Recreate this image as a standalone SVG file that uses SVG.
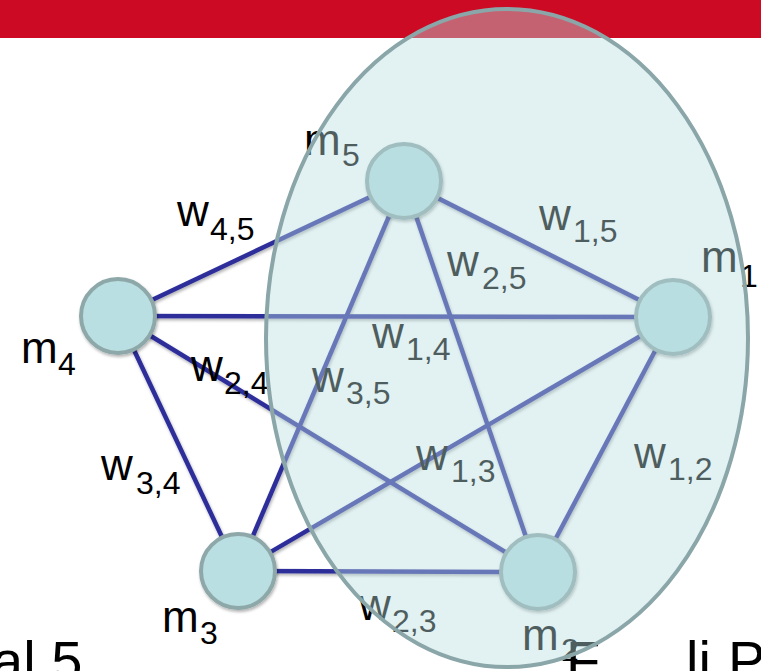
<svg xmlns="http://www.w3.org/2000/svg" width="761" height="671" viewBox="0 0 761 671">
<style>
.edge{stroke:#2d2f9b;stroke-width:4.5;fill:none}
.node{fill:#b9dfe2;stroke:#8ea8a9;stroke-width:4}
.t{font-family:"Liberation Sans",Arial,sans-serif;fill:#000}
.big{font-size:44px}
.sub{font-size:32px}
.bottom{font-family:"Liberation Sans",Arial,sans-serif;font-size:56px;fill:#000}
</style>
<defs>
<filter id="sh" x="-20%" y="-20%" width="140%" height="140%">
<feDropShadow dx="1" dy="2" stdDeviation="1.5" flood-color="#000" flood-opacity="0.3"/>
</filter>
</defs>
<rect x="0" y="0" width="761" height="671" fill="#ffffff"/>
<rect x="0" y="0" width="761" height="38" fill="#cc0a24"/>
<text x="8" y="-9" font-family="Liberation Sans,sans-serif" font-size="30" fill="#fff">g</text>
<g id="connectors" filter="url(#sh)">
<line class="edge" x1="118" y1="316" x2="404" y2="181"/>
<line class="edge" x1="673" y1="317" x2="404" y2="181"/>
<line class="edge" x1="538" y1="572" x2="404" y2="181"/>
<line class="edge" x1="238" y1="571" x2="404" y2="181"/>
<line class="edge" x1="118" y1="316" x2="673" y2="317"/>
<line class="edge" x1="118" y1="316" x2="538" y2="572"/>
<line class="edge" x1="118" y1="316" x2="238" y2="571"/>
<line class="edge" x1="238" y1="571" x2="673" y2="317"/>
<line class="edge" x1="238" y1="571" x2="538" y2="572"/>
<line class="edge" x1="538" y1="572" x2="673" y2="317"/>
</g>
<g id="m5"><circle class="node" cx="404" cy="181" r="37" filter="url(#sh)"/>
<text class="t big" x="304" y="155">m</text><text class="t sub" x="342" y="166">5</text></g>
<g id="m1"><circle class="node" cx="673" cy="317" r="37" filter="url(#sh)"/>
<text class="t big" x="701" y="272">m</text><text class="t sub" x="740" y="287">1</text></g>
<g id="m4"><circle class="node" cx="118" cy="316" r="37" filter="url(#sh)"/>
<text class="t big" x="21" y="363">m</text><text class="t sub" x="58" y="375">4</text></g>
<g id="m3"><circle class="node" cx="238" cy="571" r="37" filter="url(#sh)"/>
<text class="t big" x="162" y="632">m</text><text class="t sub" x="200" y="644">3</text></g>
<g id="m2"><circle class="node" cx="538" cy="572" r="37" filter="url(#sh)"/>
<text class="t big" x="522" y="650">m</text><text class="t sub" x="561" y="661">2</text></g>
<g id="labels">
<text class="t big" x="177" y="226">w</text><text class="t sub" x="210" y="240">4,5</text>
<text class="t big" x="539" y="230">w</text><text class="t sub" x="573" y="242">1,5</text>
<text class="t big" x="447" y="276">w</text><text class="t sub" x="482" y="289">2,5</text>
<text class="t big" x="372" y="348">w</text><text class="t sub" x="406" y="360">1,4</text>
<text class="t big" x="191" y="381">w</text><text class="t sub" x="224" y="394">2,4</text>
<text class="t big" x="312" y="392">w</text><text class="t sub" x="346" y="404">3,5</text>
<text class="t big" x="416" y="470">w</text><text class="t sub" x="451" y="482">1,3</text>
<text class="t big" x="101" y="480">w</text><text class="t sub" x="136" y="494">3,4</text>
<text class="t big" x="634" y="468">w</text><text class="t sub" x="668" y="480">1,2</text>
<text class="t big" x="359" y="620">w</text><text class="t sub" x="392" y="632">2,3</text>
</g>
<text class="bottom" x="-8" y="680">al 5</text>
<text class="bottom" x="566" y="680">F</text>
<text class="bottom" x="686" y="680">li</text>
<text class="bottom" x="728" y="680">P</text>
<ellipse id="cluster" cx="507" cy="338" rx="241" ry="329" fill="#bbdde0" fill-opacity="0.42" stroke="#8aa6a8" stroke-width="4"/>
</svg>
